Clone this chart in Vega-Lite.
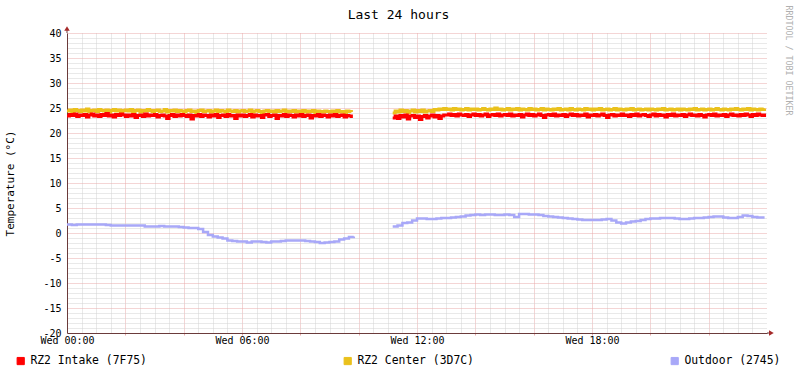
{
"$schema":"https://vega.github.io/schema/vega-lite/v6.json",
"width":700,"height":300,
"autosize":{"type":"none"},
"padding":{"left":67,"top":33,"right":30,"bottom":40},
"background":"white",
"datasets":{
"rz":[{"t":0,"a":23.4,"b":24.4},{"t":5,"a":23.7,"b":24.6},{"t":10,"a":23.5,"b":24.2},{"t":15,"a":23.8,"b":24.7},{"t":20,"a":23.3,"b":24.5},{"t":25,"a":23.6,"b":24.3},{"t":30,"a":23.5,"b":24.6},{"t":35,"a":23.7,"b":24.4},{"t":40,"a":23.2,"b":24.8},{"t":45,"a":23.6,"b":24.3},{"t":50,"a":23.8,"b":24.5},{"t":55,"a":23.4,"b":24.6},
{"t":60,"a":23.6,"b":24.3},{"t":65,"a":23.3,"b":24.7},{"t":70,"a":23.7,"b":24.5},{"t":75,"a":23.5,"b":24.4},{"t":80,"a":23.9,"b":24.6},{"t":85,"a":23.4,"b":24.2},{"t":90,"a":23.6,"b":24.5},{"t":95,"a":23.2,"b":24.7},{"t":100,"a":23.7,"b":24.4},{"t":105,"a":23.5,"b":24.6},{"t":110,"a":23.8,"b":24.3},{"t":115,"a":23.6,"b":24.5},
{"t":120,"a":23.3,"b":24.6},{"t":125,"a":23.6,"b":24.4},{"t":130,"a":23.4,"b":24.7},{"t":135,"a":23.7,"b":24.3},{"t":140,"a":23.1,"b":24.5},{"t":145,"a":23.5,"b":24.6},{"t":150,"a":23.6,"b":24.2},{"t":155,"a":23.3,"b":24.5},{"t":160,"a":23.8,"b":24.4},{"t":165,"a":23.4,"b":24.7},{"t":170,"a":23.6,"b":24.5},{"t":175,"a":23.5,"b":24.3},
{"t":180,"a":23.7,"b":24.5},{"t":185,"a":23.2,"b":24.6},{"t":190,"a":23.5,"b":24.3},{"t":195,"a":23.6,"b":24.4},{"t":200,"a":23.4,"b":24.7},{"t":205,"a":22.9,"b":24.2},{"t":210,"a":23.5,"b":24.5},{"t":215,"a":23.7,"b":24.4},{"t":220,"a":23.3,"b":24.6},{"t":225,"a":23.6,"b":24.3},{"t":230,"a":23.4,"b":24.5},{"t":235,"a":23.7,"b":24.4},
{"t":240,"a":23.5,"b":24.2},{"t":245,"a":23.3,"b":24.5},{"t":250,"a":23.6,"b":24.6},{"t":255,"a":22.8,"b":24.3},{"t":260,"a":23.5,"b":24.4},{"t":265,"a":23.4,"b":24.1},{"t":270,"a":23.7,"b":24.5},{"t":275,"a":23.3,"b":24.6},{"t":280,"a":23.6,"b":24.3},{"t":285,"a":23.5,"b":24.4},{"t":290,"a":23.2,"b":24.5},{"t":295,"a":23.6,"b":24.2},
{"t":300,"a":23.4,"b":24.4},{"t":305,"a":23.7,"b":24.6},{"t":310,"a":23.1,"b":24.3},{"t":315,"a":23.5,"b":24.5},{"t":320,"a":23.6,"b":24.4},{"t":325,"a":23.3,"b":24.2},{"t":330,"a":23.7,"b":24.6},{"t":335,"a":23.4,"b":24.4},{"t":340,"a":23.5,"b":24.3},{"t":345,"a":22.9,"b":24.5},{"t":350,"a":23.6,"b":24.2},{"t":355,"a":23.4,"b":24.4},
{"t":360,"a":23.6,"b":24.5},{"t":365,"a":23.3,"b":24.3},{"t":370,"a":23.5,"b":24.4},{"t":375,"a":23.7,"b":24.6},{"t":380,"a":23.2,"b":24.2},{"t":385,"a":23.6,"b":24.4},{"t":390,"a":23.4,"b":24.5},{"t":395,"a":23.5,"b":24.3},{"t":400,"a":23.1,"b":24.1},{"t":405,"a":23.6,"b":24.4},{"t":410,"a":23.7,"b":24.5},{"t":415,"a":23.3,"b":24.3},
{"t":420,"a":23.5,"b":24.4},{"t":425,"a":23.6,"b":24.2},{"t":430,"a":22.9,"b":24.5},{"t":435,"a":23.5,"b":24.3},{"t":440,"a":23.4,"b":24.4},{"t":445,"a":23.7,"b":24.6},{"t":450,"a":23.3,"b":24.2},{"t":455,"a":23.6,"b":24.4},{"t":460,"a":23.5,"b":24.3},{"t":465,"a":23.2,"b":24.5},{"t":470,"a":23.6,"b":24.2},{"t":475,"a":23.4,"b":24.4},
{"t":480,"a":23.7,"b":24.3},{"t":485,"a":23.3,"b":24.5},{"t":490,"a":23.5,"b":24.2},{"t":495,"a":23.6,"b":24.4},{"t":500,"a":23.0,"b":24.3},{"t":505,"a":23.5,"b":24.5},{"t":510,"a":23.4,"b":24.1},{"t":515,"a":23.7,"b":24.4},{"t":520,"a":23.3,"b":24.3},{"t":525,"a":23.6,"b":24.2},{"t":530,"a":23.5,"b":24.4},{"t":535,"a":23.2,"b":24.3},
{"t":540,"a":23.6,"b":24.2},{"t":545,"a":23.4,"b":24.4},{"t":550,"a":23.7,"b":24.3},{"t":555,"a":23.3,"b":24.5},{"t":560,"a":23.5,"b":24.2},{"t":565,"a":23.6,"b":24.3},{"t":570,"a":23.2,"b":24.1},{"t":575,"a":23.5,"b":24.4},{"t":580,"a":23.4,"b":24.3},{"t":585,"a":23.0,"b":24.2},
{"t":600,"a":null,"b":null},
{"t":670,"a":23.0,"b":24.0},{"t":675,"a":23.4,"b":24.4},{"t":680,"a":22.9,"b":24.2},{"t":685,"a":23.5,"b":24.6},{"t":690,"a":23.2,"b":24.3},{"t":695,"a":23.6,"b":24.5},{"t":700,"a":22.8,"b":24.1},{"t":705,"a":23.4,"b":24.4},{"t":710,"a":23.5,"b":24.6},{"t":715,"a":23.1,"b":24.2},
{"t":720,"a":23.4,"b":24.5},{"t":725,"a":22.7,"b":24.3},{"t":730,"a":23.3,"b":24.6},{"t":735,"a":23.5,"b":24.2},{"t":740,"a":23.0,"b":24.4},{"t":745,"a":23.4,"b":24.5},{"t":750,"a":23.6,"b":24.3},{"t":755,"a":23.2,"b":24.7},{"t":760,"a":23.5,"b":24.6},{"t":765,"a":22.9,"b":24.8},{"t":770,"a":23.4,"b":24.7},{"t":775,"a":23.6,"b":24.9},
{"t":780,"a":23.6,"b":24.7},{"t":785,"a":23.8,"b":24.8},{"t":790,"a":23.5,"b":24.6},{"t":795,"a":23.7,"b":24.9},{"t":800,"a":23.4,"b":24.7},{"t":805,"a":23.8,"b":24.8},{"t":810,"a":23.6,"b":24.6},{"t":815,"a":23.5,"b":24.7},{"t":820,"a":23.7,"b":24.9},{"t":825,"a":23.3,"b":24.6},{"t":830,"a":23.6,"b":24.8},{"t":835,"a":23.8,"b":24.7},
{"t":840,"a":23.5,"b":24.8},{"t":845,"a":23.7,"b":24.6},{"t":850,"a":23.4,"b":24.7},{"t":855,"a":23.6,"b":24.9},{"t":860,"a":23.8,"b":24.7},{"t":865,"a":23.3,"b":24.6},{"t":870,"a":23.6,"b":24.8},{"t":875,"a":23.7,"b":24.7},{"t":880,"a":23.5,"b":25.0},{"t":885,"a":23.8,"b":24.7},{"t":890,"a":23.4,"b":24.8},{"t":895,"a":23.6,"b":24.6},
{"t":900,"a":23.7,"b":24.7},{"t":905,"a":23.5,"b":24.9},{"t":910,"a":23.8,"b":24.6},{"t":915,"a":23.4,"b":24.8},{"t":920,"a":23.6,"b":24.7},{"t":925,"a":23.5,"b":24.9},{"t":930,"a":23.7,"b":24.6},{"t":935,"a":23.2,"b":24.8},{"t":940,"a":23.6,"b":24.7},{"t":945,"a":23.8,"b":24.6},{"t":950,"a":23.5,"b":24.9},{"t":955,"a":23.7,"b":24.7},
{"t":960,"a":23.4,"b":24.8},{"t":965,"a":23.6,"b":24.6},{"t":970,"a":23.8,"b":24.7},{"t":975,"a":23.5,"b":24.9},{"t":980,"a":23.1,"b":24.6},{"t":985,"a":23.6,"b":24.8},{"t":990,"a":23.7,"b":24.7},{"t":995,"a":23.5,"b":24.6},{"t":1000,"a":23.8,"b":24.8},{"t":1005,"a":23.4,"b":24.7},{"t":1010,"a":23.6,"b":24.9},{"t":1015,"a":23.5,"b":24.6},
{"t":1020,"a":23.7,"b":24.7},{"t":1025,"a":23.3,"b":24.8},{"t":1030,"a":23.6,"b":24.6},{"t":1035,"a":23.8,"b":24.9},{"t":1040,"a":23.5,"b":24.7},{"t":1045,"a":23.7,"b":24.6},{"t":1050,"a":23.4,"b":24.8},{"t":1055,"a":23.6,"b":24.7},{"t":1060,"a":23.5,"b":24.6},{"t":1065,"a":23.8,"b":24.9},{"t":1070,"a":23.2,"b":24.7},{"t":1075,"a":23.6,"b":24.8},
{"t":1080,"a":23.5,"b":24.6},{"t":1085,"a":23.7,"b":24.8},{"t":1090,"a":23.4,"b":24.7},{"t":1095,"a":23.6,"b":24.9},{"t":1100,"a":23.8,"b":24.6},{"t":1105,"a":23.5,"b":24.7},{"t":1110,"a":23.1,"b":24.8},{"t":1115,"a":23.6,"b":24.6},{"t":1120,"a":23.7,"b":24.7},{"t":1125,"a":23.4,"b":24.9},{"t":1130,"a":23.6,"b":24.6},{"t":1135,"a":23.5,"b":24.8},
{"t":1140,"a":23.8,"b":24.7},{"t":1145,"a":23.5,"b":24.6},{"t":1150,"a":23.6,"b":24.8},{"t":1155,"a":23.3,"b":24.7},{"t":1160,"a":23.7,"b":24.9},{"t":1165,"a":23.5,"b":24.6},{"t":1170,"a":23.8,"b":24.7},{"t":1175,"a":23.4,"b":24.8},{"t":1180,"a":23.6,"b":24.6},{"t":1185,"a":23.7,"b":24.7},{"t":1190,"a":23.5,"b":24.8},{"t":1195,"a":23.3,"b":24.6},
{"t":1200,"a":23.6,"b":24.8},{"t":1205,"a":23.8,"b":24.7},{"t":1210,"a":23.4,"b":24.6},{"t":1215,"a":23.7,"b":24.8},{"t":1220,"a":23.5,"b":24.7},{"t":1225,"a":23.6,"b":24.9},{"t":1230,"a":23.2,"b":24.6},{"t":1235,"a":23.7,"b":24.7},{"t":1240,"a":23.5,"b":24.8},{"t":1245,"a":23.8,"b":24.6},{"t":1250,"a":23.4,"b":24.7},{"t":1255,"a":23.6,"b":24.8},
{"t":1260,"a":23.5,"b":24.6},{"t":1265,"a":23.7,"b":24.8},{"t":1270,"a":23.3,"b":24.7},{"t":1275,"a":23.6,"b":24.6},{"t":1280,"a":23.8,"b":24.8},{"t":1285,"a":23.5,"b":24.7},{"t":1290,"a":23.6,"b":24.9},{"t":1295,"a":23.4,"b":24.6},{"t":1300,"a":23.7,"b":24.7},{"t":1305,"a":23.5,"b":24.8},{"t":1310,"a":23.2,"b":24.6},{"t":1315,"a":23.6,"b":24.7},
{"t":1320,"a":23.7,"b":24.8},{"t":1325,"a":23.5,"b":24.6},{"t":1330,"a":23.8,"b":24.7},{"t":1335,"a":23.4,"b":24.9},{"t":1340,"a":23.6,"b":24.7},{"t":1345,"a":23.5,"b":24.6},{"t":1350,"a":23.7,"b":24.8},{"t":1355,"a":23.3,"b":24.7},{"t":1360,"a":23.6,"b":24.6},{"t":1365,"a":23.8,"b":24.8},{"t":1370,"a":23.5,"b":24.7},{"t":1375,"a":23.6,"b":24.9},
{"t":1380,"a":23.4,"b":24.7},{"t":1385,"a":23.7,"b":24.6},{"t":1390,"a":23.5,"b":24.8},{"t":1395,"a":23.8,"b":24.7},{"t":1400,"a":23.6,"b":24.9},{"t":1405,"a":23.3,"b":24.6},{"t":1410,"a":23.7,"b":24.8},{"t":1415,"a":23.5,"b":24.7},{"t":1420,"a":23.8,"b":24.6},{"t":1425,"a":23.6,"b":24.8},{"t":1430,"a":23.5,"b":24.7},{"t":1435,"a":23.9,"b":24.9}],
"out":[{"t":0,"o":1.7},{"t":10,"o":1.6},{"t":20,"o":1.7},{"t":30,"o":1.7},{"t":40,"o":1.7},{"t":50,"o":1.7},{"t":60,"o":1.7},{"t":70,"o":1.7},{"t":80,"o":1.6},{"t":90,"o":1.5},{"t":100,"o":1.5},{"t":110,"o":1.5},{"t":120,"o":1.5},{"t":130,"o":1.5},{"t":140,"o":1.5},{"t":150,"o":1.5},{"t":160,"o":1.3},{"t":170,"o":1.3},{"t":180,"o":1.3},{"t":190,"o":1.4},{"t":200,"o":1.3},{"t":210,"o":1.3},{"t":220,"o":1.3},{"t":230,"o":1.2},{"t":240,"o":1.1},{"t":250,"o":1.0},{"t":260,"o":1.0},{"t":270,"o":0.8},{"t":280,"o":0.2},{"t":290,"o":-0.4},{"t":300,"o":-0.7},{"t":310,"o":-0.9},{"t":320,"o":-1.1},{"t":330,"o":-1.5},{"t":340,"o":-1.6},{"t":350,"o":-1.7},{"t":360,"o":-1.7},{"t":370,"o":-1.9},{"t":380,"o":-1.7},{"t":390,"o":-1.7},{"t":400,"o":-1.8},{"t":410,"o":-1.9},{"t":420,"o":-1.7},{"t":430,"o":-1.7},{"t":440,"o":-1.6},{"t":450,"o":-1.5},{"t":460,"o":-1.5},{"t":470,"o":-1.5},{"t":480,"o":-1.5},{"t":490,"o":-1.6},{"t":500,"o":-1.7},{"t":510,"o":-1.8},{"t":520,"o":-2.0},{"t":530,"o":-1.9},{"t":540,"o":-1.8},{"t":550,"o":-1.7},{"t":560,"o":-1.3},{"t":570,"o":-1.1},{"t":580,"o":-0.8},{"t":590,"o":-0.7},{"t":600,"o":null},
{"t":670,"o":1.3},{"t":680,"o":1.5},{"t":690,"o":2.0},{"t":700,"o":2.1},{"t":710,"o":2.5},{"t":720,"o":2.9},{"t":730,"o":2.9},{"t":740,"o":2.8},{"t":750,"o":2.8},{"t":760,"o":2.9},{"t":770,"o":3.0},{"t":780,"o":3.0},{"t":790,"o":3.1},{"t":800,"o":3.2},{"t":810,"o":3.3},{"t":820,"o":3.5},{"t":830,"o":3.6},{"t":840,"o":3.7},{"t":850,"o":3.6},{"t":860,"o":3.7},{"t":870,"o":3.7},{"t":880,"o":3.6},{"t":890,"o":3.6},{"t":900,"o":3.7},{"t":910,"o":3.6},{"t":920,"o":3.2},{"t":930,"o":3.8},{"t":940,"o":3.8},{"t":950,"o":3.7},{"t":960,"o":3.7},{"t":970,"o":3.6},{"t":980,"o":3.4},{"t":990,"o":3.3},{"t":1000,"o":3.2},{"t":1010,"o":3.1},{"t":1020,"o":3.0},{"t":1030,"o":2.9},{"t":1040,"o":2.8},{"t":1050,"o":2.7},{"t":1060,"o":2.6},{"t":1070,"o":2.6},{"t":1080,"o":2.6},{"t":1090,"o":2.6},{"t":1100,"o":2.7},{"t":1110,"o":2.8},{"t":1120,"o":2.5},{"t":1130,"o":2.1},{"t":1140,"o":1.9},{"t":1150,"o":2.1},{"t":1160,"o":2.3},{"t":1170,"o":2.4},{"t":1180,"o":2.6},{"t":1190,"o":2.8},{"t":1200,"o":2.9},{"t":1210,"o":2.9},{"t":1220,"o":3.0},{"t":1230,"o":3.0},{"t":1240,"o":3.0},{"t":1250,"o":2.9},{"t":1260,"o":2.8},{"t":1270,"o":2.8},{"t":1280,"o":2.9},{"t":1290,"o":3.0},{"t":1300,"o":3.0},{"t":1310,"o":3.1},{"t":1320,"o":3.2},{"t":1330,"o":3.3},{"t":1340,"o":3.3},{"t":1350,"o":3.1},{"t":1360,"o":3.0},{"t":1370,"o":3.0},{"t":1380,"o":3.2},{"t":1390,"o":3.5},{"t":1400,"o":3.4},{"t":1410,"o":3.2},{"t":1420,"o":3.1},{"t":1430,"o":3.1},{"t":1435,"o":3.1}],
"ax":[{"x":0,"x2":0,"y":40,"y2":40.8},{"x":1440,"x2":1448,"y":-20,"y2":-20}],
"arrows":[{"x":0,"y":40.9,"s":"triangle-up"},{"x":1449,"y":-20,"s":"triangle-right"}]
},
"layer":[
{"data":{"name":"rz"},"mark":{"type":"line","strokeWidth":3,"interpolate":"step-after"},
"encoding":{
"x":{"field":"t","type":"quantitative","scale":{"domain":[0,1440],"nice":false,"zero":false},
"axis":{"orient":"bottom","values":[30,60,90,150,180,210,270,300,330,390,420,450,510,540,570,630,660,690,750,780,810,870,900,930,990,1020,1050,1110,1140,1170,1230,1260,1290,1350,1380,1410],"grid":true,"gridColor":"#d2d2d2","gridDash":[1,1],"gridOpacity":1,"gridWidth":1,"ticks":false,"labels":false,"domain":false,"title":null}},
"y":{"field":"b","type":"quantitative","scale":{"domain":[-20,40],"nice":false,"zero":false},
"axis":{"orient":"left","values":[-19,-18,-17,-16,-14,-13,-12,-11,-9,-8,-7,-6,-4,-3,-2,-1,1,2,3,4,6,7,8,9,11,12,13,14,16,17,18,19,21,22,23,24,26,27,28,29,31,32,33,34,36,37,38,39],"grid":true,"gridColor":"#d2d2d2","gridDash":[1,1],"gridOpacity":1,"gridWidth":1,"ticks":false,"labels":false,"domain":false,"title":null}},
"color":{"datum":"b","scale":{"domain":["a","b","o"],"range":["#ff0000","#eac11c","#a8a8f8"]},
"legend":{"orient":"none","legendX":-52,"legendY":322,"direction":"horizontal","columns":3,"columnPadding":195,"symbolType":"square","symbolSize":52,"symbolOpacity":1,"labelFont":"DejaVu Sans Mono","labelFontSize":11.4,"labelColor":"black","labelOffset":4,"title":null,
"labelExpr":"datum.value == 'a' ? 'RZ2 Intake (7F75)' : datum.value == 'b' ? 'RZ2 Center (3D7C)' : 'Outdoor (2745)'",
"encode":{"symbols":{"update":{"fill":{"scale":"color","field":"value"},"stroke":{"value":"black"},"strokeWidth":{"value":1},"opacity":{"value":1},"fillOpacity":{"value":1},"strokeOpacity":{"value":1}}}}}}
}},
{"data":{"name":"rz"},"mark":{"type":"line","strokeWidth":3,"interpolate":"step-after"},
"encoding":{
"x":{"field":"t","type":"quantitative",
"axis":{"orient":"bottom","values":[120,240,360,480,600,720,840,960,1080,1200,1320],"grid":true,"gridColor":"#e8aaaa","gridDash":[1,1],"gridOpacity":1,"gridWidth":1,"ticks":true,"tickSize":2,"tickColor":"#e8aaaa","labels":false,"domain":false,"title":null}},
"y":{"field":"a","type":"quantitative",
"axis":{"orient":"left","values":[-15,-10,-5,0,5,10,15,20,25,30,35,40],"grid":true,"gridColor":"#e8aaaa","gridDash":[1,1],"gridOpacity":1,"gridWidth":1,"ticks":false,"labels":false,"domain":false,"title":null}},
"color":{"datum":"a","legend":{"symbolType":"square"}}
}},
{"data":{"name":"out"},"mark":{"type":"line","strokeWidth":2.5,"interpolate":"step-after"},
"encoding":{
"x":{"field":"t","type":"quantitative",
"axis":{"orient":"bottom","values":[0,360,720,1080],"labelExpr":"'Wed ' + (datum.value < 600 ? '0' : '') + (datum.value / 60) + ':00'","labelFont":"DejaVu Sans Mono","labelFontSize":10,"labelColor":"black","labelPadding":2,"labelFlush":false,"labelOverlap":false,"ticks":false,"grid":false,"domain":true,"domainColor":"#6b3b3b","domainWidth":1,"title":null}},
"y":{"field":"o","type":"quantitative",
"axis":{"orient":"left","values":[-20,-15,-10,-5,0,5,10,15,20,25,30,35,40],"labelExpr":"'' + datum.value","labelFont":"DejaVu Sans Mono","labelFontSize":10,"labelColor":"black","labelPadding":6,"labelFlush":false,"labelOverlap":false,"ticks":false,"grid":false,"domain":true,"domainColor":"#6b3b3b","domainWidth":1,
"title":"Temperature (°C)","titleFont":"DejaVu Sans Mono","titleFontSize":11,"titleFontWeight":"normal","titleColor":"black","titleX":-57,"titleY":150,"titleAngle":-90,"titleAlign":"center","titleBaseline":"middle"}},
"color":{"datum":"o","legend":{"symbolType":"square"}}
}},
{"data":{"name":"ax"},"mark":{"type":"rule","color":"#6b3b3b","strokeWidth":1},
"encoding":{"x":{"field":"x","type":"quantitative","axis":null},"x2":{"field":"x2"},"y":{"field":"y","type":"quantitative","axis":null},"y2":{"field":"y2"}}},
{"data":{"name":"arrows"},"mark":{"type":"point","filled":true,"color":"#a52a2a","size":30,"opacity":1},
"encoding":{"x":{"field":"x","type":"quantitative","axis":{"orient":"top","ticks":false,"labels":false,"domain":false,"grid":false,"title":"Last 24 hours","titleFont":"DejaVu Sans Mono","titleFontSize":13,"titleFontWeight":"normal","titleColor":"black","titleX":331,"titleY":-15,"titleAlign":"center","titleBaseline":"alphabetic","titleAngle":0}},
"y":{"field":"y","type":"quantitative","axis":{"orient":"right","ticks":false,"labels":false,"domain":false,"grid":false,"title":"RRDTOOL / TOBI OETIKER","titleFont":"DejaVu Sans Mono","titleFontSize":8.3,"titleFontWeight":"normal","titleColor":"#b0b0b0","titleAngle":90,"titleX":20,"titleY":27,"titleAlign":"center","titleBaseline":"middle"}},
"shape":{"field":"s","type":"nominal","scale":null}}}
],
"resolve":{"axis":{"x":"independent","y":"independent"}},
"config":{"view":{"stroke":null}}
}
